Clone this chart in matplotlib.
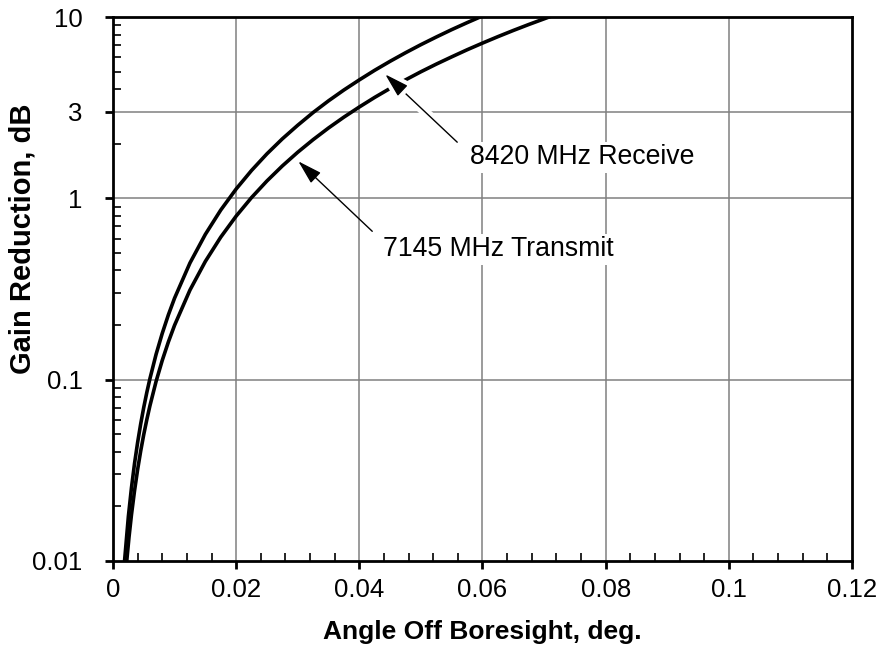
import matplotlib
matplotlib.use("Agg")
from matplotlib import pyplot as plt
from matplotlib import patheffects
from matplotlib.ticker import FixedLocator, NullFormatter

plt.rcParams['font.family'] = ['Liberation Sans', 'DejaVu Sans']

# values
rx_angle = [0.0018, 0.0019, 0.0025, 0.003, 0.0035, 0.004, 0.0045, 0.005, 0.0055, 0.006,
            0.007, 0.008, 0.009, 0.010, 0.0125, 0.015, 0.0175, 0.020, 0.0225,
            0.025, 0.0275, 0.030, 0.0325, 0.035, 0.0375, 0.040, 0.0425, 0.045,
            0.0475, 0.050, 0.0525, 0.055, 0.0575, 0.0596, 0.061]
rx_gain = [0.0091, 0.0102, 0.0176, 0.0253, 0.0345, 0.0450, 0.0570, 0.0704, 0.0852, 0.1013,
           0.138, 0.180, 0.228, 0.2815, 0.440, 0.633, 0.862, 1.126, 1.425,
           1.76, 2.129, 2.53, 2.974, 3.45, 3.959, 4.50, 5.085, 5.70,
           6.352, 7.04, 7.759, 8.52, 9.308, 10.0, 10.5]

tx_angle = [0.0022, 0.0023, 0.0026, 0.003, 0.0035, 0.004, 0.0045, 0.005, 0.0055, 0.006,
            0.007, 0.008, 0.009, 0.010, 0.0125, 0.015, 0.0175, 0.020, 0.0225,
            0.025, 0.0275, 0.030, 0.0325, 0.035, 0.0375, 0.040, 0.0425, 0.045,
            0.0475, 0.050, 0.0525, 0.055, 0.0575, 0.060, 0.0625, 0.065, 0.0675,
            0.0708, 0.072]
tx_gain = [0.00966, 0.01055, 0.0135, 0.01796, 0.0244, 0.0319, 0.0404, 0.0499, 0.0603, 0.0718,
           0.0978, 0.1277, 0.1616, 0.1995, 0.312, 0.449, 0.611, 0.798, 1.010,
           1.247, 1.509, 1.796, 2.107, 2.444, 2.805, 3.19, 3.604, 4.04,
           4.501, 4.99, 5.499, 6.03, 6.596, 7.18, 7.793, 8.43, 9.090,
           10.0, 10.34]

x_ticks = [0, 0.02, 0.04, 0.06, 0.08, 0.1, 0.12]
x_tick_labels = ['0', '0.02', '0.04', '0.06', '0.08', '0.1', '0.12']
y_ticks = [0.01, 0.1, 1, 3, 10]
y_tick_labels = ['0.01', '0.1', '1', '3', '10']

fig = plt.figure(figsize=(8.84, 6.52), dpi=100)
ax = fig.add_axes([0.1278, 0.1396, 0.8360, 0.8343])

ax.set_yscale('log')
ax.set_xlim(0, 0.12)
ax.set_ylim(0.01, 10)

# grid lines
for gx in x_ticks[1:-1]:
    ax.axvline(gx, color='#808080', lw=1.1, zorder=1)
for gy in [0.1, 1, 3]:
    ax.axhline(gy, color='#808080', lw=1.1, zorder=1)

ax.plot(rx_angle, rx_gain, color='black', lw=2.6, zorder=3)
ax.plot(tx_angle, tx_gain, color='black', lw=2.6, zorder=3)

# ticks: major outward, minor inward
ax.xaxis.set_major_locator(FixedLocator(x_ticks))
ax.set_xticklabels(x_tick_labels)
x_minor = [m * 0.004 for m in range(31) if m % 5 != 0]
ax.xaxis.set_minor_locator(FixedLocator(x_minor))
ax.yaxis.set_major_locator(FixedLocator(y_ticks))
ax.set_yticklabels(y_tick_labels)
y_minor = [d * k for d in [0.01, 0.1] for k in range(2, 10)] + [2, 4, 5, 6, 7, 8, 9]
ax.yaxis.set_minor_locator(FixedLocator(y_minor))
ax.yaxis.set_minor_formatter(NullFormatter())

ax.tick_params(which='major', direction='out', length=6, width=2, labelsize=18.5,
               color='black')
ax.tick_params(axis='x', which='major', pad=6)
ax.tick_params(axis='y', which='major', pad=16)
ax.tick_params(which='minor', direction='in', length=6, width=1.2, color='black')

for side in ['left', 'right', 'top', 'bottom']:
    ax.spines[side].set_linewidth(2)
    ax.spines[side].set_color('black')
    ax.spines[side].set_zorder(5)

ax.set_xlabel('Angle Off Boresight, deg.', fontsize=19, fontweight='bold', labelpad=13)
ax.set_ylabel('Gain Reduction, dB', fontsize=21, fontweight='bold',
              verticalalignment='center')
ax.yaxis.set_label_coords(-0.122, 0.593)

# annotations
rx_arrow = ax.annotate('', xy=(0.0442, 4.83), xytext=(0.0559, 2.04),
                       arrowprops=dict(arrowstyle='-|>,head_length=0.75,head_width=0.22',
                                       color='black', lw=1.0, mutation_scale=20,
                                       shrinkA=0, shrinkB=0),
                       zorder=6)
rx_arrow.arrow_patch.set_path_effects([
    patheffects.withStroke(linewidth=7, foreground='white')])
ax.text(0.0580, 1.68, '8420 MHz Receive', fontsize=19.2, va='center', ha='left',
        bbox=dict(facecolor='white', edgecolor='none', pad=2), zorder=6)

ax.annotate('', xy=(0.0301, 1.60), xytext=(0.0421, 0.658),
            arrowprops=dict(arrowstyle='-|>,head_length=0.75,head_width=0.22',
                            color='black', lw=1.0, mutation_scale=20,
                            shrinkA=0, shrinkB=0),
            zorder=6)
ax.text(0.0439, 0.523, '7145 MHz Transmit', fontsize=19.2, va='center', ha='left',
        bbox=dict(facecolor='white', edgecolor='none', pad=2), zorder=6)

fig.savefig('out.png', dpi=100)
